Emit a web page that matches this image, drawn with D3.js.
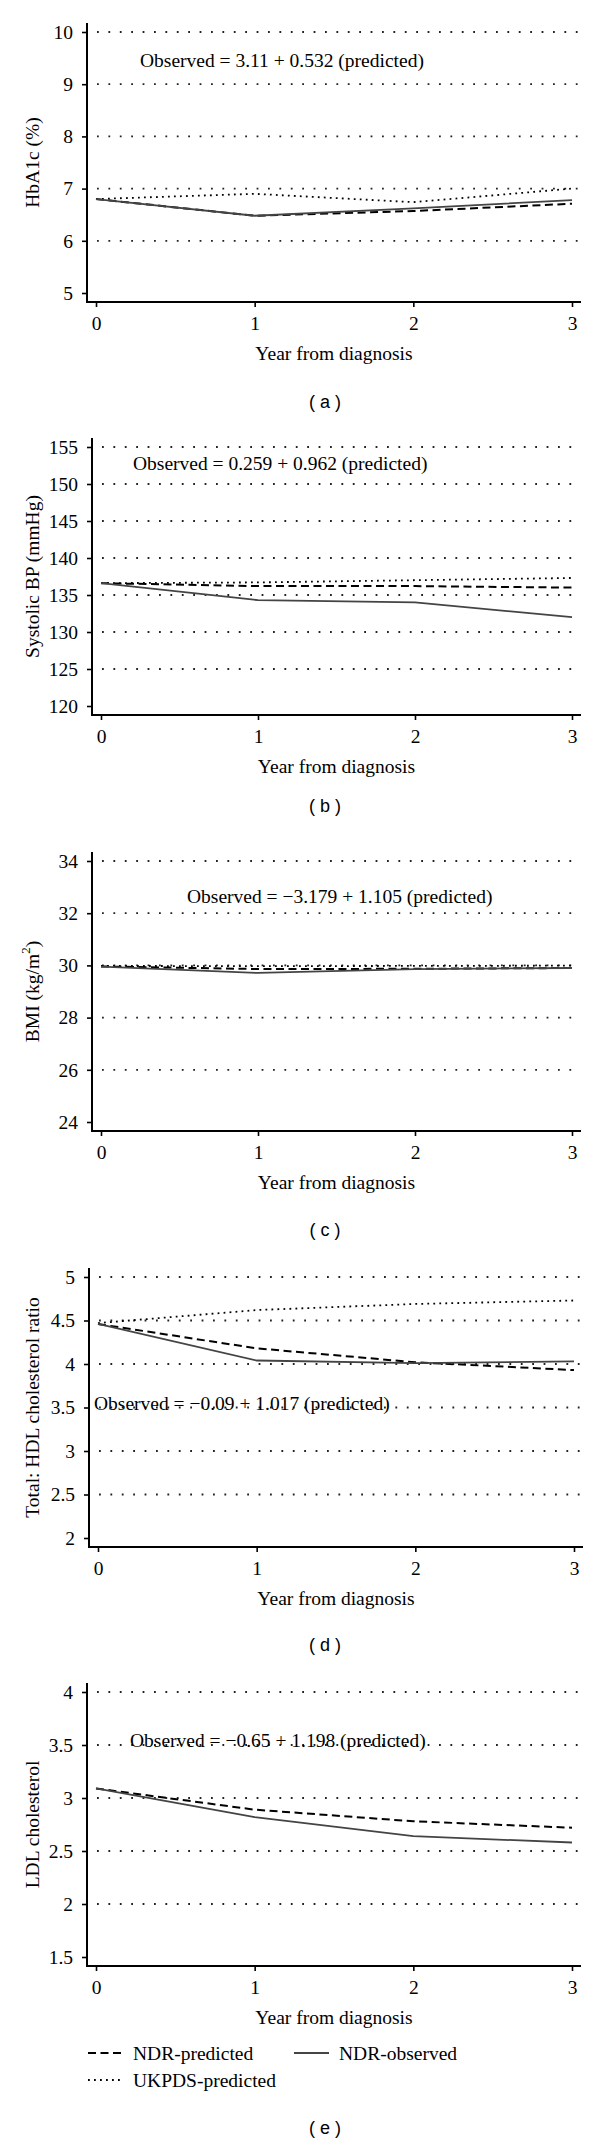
<!DOCTYPE html>
<html><head><meta charset="utf-8">
<script src="https://cdn.jsdelivr.net/npm/d3@7"></script>
<style>body{margin:0;background:#fff}svg{display:block}</style>
</head><body>
<svg id="chart" width="600" height="2144"></svg>
<script>
// ---------- data ----------
const years = [0, 1, 2, 3];
const xTickLabels = ["0", "1", "2", "3"];
const xTitle = "Year from diagnosis";
const seriesNames = ["NDR-predicted", "NDR-observed", "UKPDS-predicted"];

const hba1cTicks = [5, 6, 7, 8, 9, 10];
const hba1cObserved = [6.80, 6.48, 6.62, 6.78];
const hba1cNdrPredicted = [6.80, 6.48, 6.57, 6.71];
const hba1cUkpdsPredicted = [6.80, 6.90, 6.74, 7.00];

const sbpTicks = [120, 125, 130, 135, 140, 145, 150, 155];
const sbpObserved = [136.6, 134.3, 134.0, 132.0];
const sbpNdrPredicted = [136.6, 136.2, 136.2, 136.0];
const sbpUkpdsPredicted = [136.6, 136.7, 137.0, 137.3];

const bmiTicks = [24, 26, 28, 30, 32, 34];
const bmiObserved = [29.95, 29.71, 29.86, 29.90];
const bmiNdrPredicted = [29.96, 29.86, 29.87, 29.90];
const bmiUkpdsPredicted = [29.98, 29.97, 29.98, 29.99];

const hdlTicks = [2, 2.5, 3, 3.5, 4, 4.5, 5];
const hdlObserved = [4.46, 4.04, 4.01, 4.03];
const hdlNdrPredicted = [4.46, 4.18, 4.02, 3.93];
const hdlUkpdsPredicted = [4.47, 4.62, 4.69, 4.73];

const ldlTicks = [1.5, 2, 2.5, 3, 3.5, 4];
const ldlObserved = [3.09, 2.82, 2.64, 2.58];
const ldlNdrPredicted = [3.09, 2.89, 2.78, 2.72];

const panelLabels = ["( a )", "( b )", "( c )", "( d )", "( e )"];
const yTitles = ["HbA1c (%)", "Systolic BP (mmHg)", "BMI (kg/m", "Total: HDL cholesterol ratio", "LDL cholesterol"];
const equations = [
  "Observed = 3.11 + 0.532 (predicted)",
  "Observed = 0.259 + 0.962 (predicted)",
  "Observed = \u22123.179 + 1.105 (predicted)",
  "Observed = \u22120.09 + 1.017 (predicted)",
  "Observed = \u22120.65 + 1.198 (predicted)"
];

// ---------- panels (data refs + geometry) ----------
const panels = [
  {ticks: hba1cTicks, obs: hba1cObserved, ndr: hba1cNdrPredicted, ukpds: hba1cUkpdsPredicted},
  {ticks: sbpTicks, obs: sbpObserved, ndr: sbpNdrPredicted, ukpds: sbpUkpdsPredicted},
  {ticks: bmiTicks, obs: bmiObserved, ndr: bmiNdrPredicted, ukpds: bmiUkpdsPredicted, sup: "2"},
  {ticks: hdlTicks, obs: hdlObserved, ndr: hdlNdrPredicted, ukpds: hdlUkpdsPredicted},
  {ticks: ldlTicks, obs: ldlObserved, ndr: ldlNdrPredicted, ukpds: null}
];
const geom = [
  {x0: 96,  x3: 572, yTop: 32,   yBot: 293,  labelY: 402,  eqX: 140, eqY: 60},
  {x0: 101, x3: 572, yTop: 447,  yBot: 706,  labelY: 806,  eqX: 133, eqY: 463},
  {x0: 101, x3: 572, yTop: 861,  yBot: 1122, labelY: 1230, eqX: 187, eqY: 896},
  {x0: 98,  x3: 574, yTop: 1277, yBot: 1538, labelY: 1645, eqX: 94,  eqY: 1403},
  {x0: 96,  x3: 572, yTop: 1692, yBot: 1957, labelY: 2128, eqX: 130, eqY: 1740}
];

const SERIF = "'Liberation Serif', 'Times New Roman', serif";
const SANS = "'Liberation Sans', Arial, sans-serif";
const FS = 19.5;
const svg = d3.select("#chart");

const styles = {
  ndr:   {stroke: "#000", width: 2,   dash: "8,4.5"},
  obs:   {stroke: "#444", width: 1.8, dash: null},
  ukpds: {stroke: "#000", width: 1.8, dash: "1.8,4.2"}
};

panels.forEach((p, i) => {
  const g = geom[i];
  const pad = 9;
  const x = d3.scaleLinear().domain([years[0], years[years.length - 1]]).range([g.x0, g.x3]);
  const y = d3.scaleLinear().domain([d3.min(p.ticks), d3.max(p.ticks)]).range([g.yBot, g.yTop]);
  const axisX = g.x0 - pad, axisY = g.yBot + pad;
  const gp = svg.append("g");

  // gridlines (all ticks except the bottom one)
  gp.append("g").selectAll("line").data(p.ticks.filter(t => t !== d3.min(p.ticks))).join("line")
    .attr("x1", axisX + 10).attr("x2", g.x3 + 6)
    .attr("y1", d => y(d)).attr("y2", d => y(d))
    .attr("stroke", "#222").attr("stroke-width", 1.8)
    .attr("stroke-dasharray", "1.8,9.6");

  // y axis
  const ya = d3.axisLeft(y).tickValues(p.ticks).tickFormat(d3.format("~g")).tickSize(5).tickPadding(9);
  const yg = gp.append("g").attr("transform", `translate(${axisX},0)`).call(ya);
  yg.select(".domain").remove();
  yg.selectAll(".tick line").attr("stroke", "#000").attr("stroke-width", 1.6);
  yg.selectAll(".tick text").attr("font-family", SERIF).attr("font-size", FS).attr("fill", "#000");
  gp.append("line").attr("x1", axisX).attr("x2", axisX).attr("y1", g.yTop - pad).attr("y2", axisY + 1)
    .attr("stroke", "#000").attr("stroke-width", 2);

  // x axis
  const xa = d3.axisBottom(x).tickValues(years).tickFormat((d, k) => xTickLabels[k]).tickSize(5).tickPadding(9);
  const xg = gp.append("g").attr("transform", `translate(0,${axisY})`).call(xa);
  xg.select(".domain").remove();
  xg.selectAll(".tick line").attr("stroke", "#000").attr("stroke-width", 1.6);
  xg.selectAll(".tick text").attr("font-family", SERIF).attr("font-size", FS).attr("fill", "#000");
  gp.append("line").attr("x1", axisX - 1).attr("x2", g.x3 + pad).attr("y1", axisY).attr("y2", axisY)
    .attr("stroke", "#000").attr("stroke-width", 2);

  // series
  const line = d3.line().x((d, k) => x(years[k])).y(d => y(d));
  const draw = (vals, st) => {
    if (!vals) return;
    gp.append("path").datum(vals).attr("d", line).attr("fill", "none")
      .attr("stroke", st.stroke).attr("stroke-width", st.width)
      .attr("stroke-dasharray", st.dash);
  };
  draw(p.ukpds, styles.ukpds);
  draw(p.ndr, styles.ndr);
  draw(p.obs, styles.obs);

  // equation
  gp.append("text").attr("x", g.eqX).attr("y", g.eqY).attr("dominant-baseline", "central")
    .attr("font-family", SERIF).attr("font-size", FS).attr("fill", "#000").text(equations[i]);

  // y title
  const yt = gp.append("text")
    .attr("transform", `translate(32,${(g.yTop + g.yBot) / 2}) rotate(-90)`)
    .attr("text-anchor", "middle").attr("dominant-baseline", "central")
    .attr("font-family", SERIF).attr("font-size", FS).attr("fill", "#000");
  yt.append("tspan").text(yTitles[i]);
  if (p.sup) {
    yt.append("tspan").attr("dy", -7).attr("font-size", 13).text(p.sup);
    yt.append("tspan").attr("dy", 7).text(")");
  }

  // x title
  gp.append("text").attr("x", (g.x0 + g.x3) / 2).attr("y", axisY + 51)
    .attr("text-anchor", "middle").attr("dominant-baseline", "central")
    .attr("font-family", SERIF).attr("font-size", FS).attr("fill", "#000").text(xTitle);

  // panel label
  gp.append("text").attr("x", 325).attr("y", g.labelY)
    .attr("text-anchor", "middle").attr("dominant-baseline", "central")
    .attr("font-family", SANS).attr("font-size", 18).attr("fill", "#000").text(panelLabels[i]);
});

// legend
const legendItems = [
  {name: seriesNames[0], st: styles.ndr,   x: 88,  y: 2053},
  {name: seriesNames[1], st: styles.obs,   x: 294, y: 2053},
  {name: seriesNames[2], st: styles.ukpds, x: 88,  y: 2080}
];
const lg = svg.append("g");
legendItems.forEach(it => {
  lg.append("line").attr("x1", it.x).attr("x2", it.x + 35).attr("y1", it.y).attr("y2", it.y)
    .attr("stroke", it.st.stroke).attr("stroke-width", it.st.width).attr("stroke-dasharray", it.st.dash);
  lg.append("text").attr("x", it.x + 45).attr("y", it.y).attr("dominant-baseline", "central")
    .attr("font-family", SERIF).attr("font-size", FS).attr("fill", "#000").text(it.name);
});
</script>
</body></html>
